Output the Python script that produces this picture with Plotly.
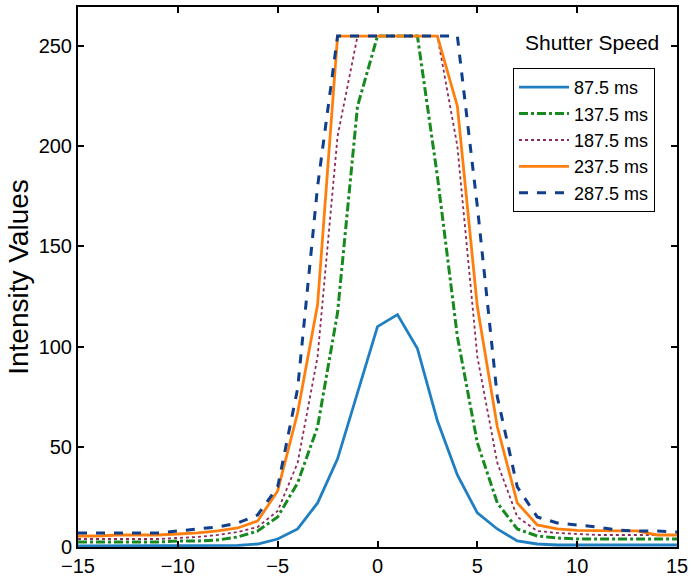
import plotly.graph_objects as go

positions = list(range(-15, 16))

speed_labels = ["87.5 ms", "137.5 ms", "187.5 ms", "237.5 ms", "287.5 ms"]

s87 = [0.5, 0.5, 0.5, 0.5, 0.5, 0.5, 0.5, 0.5, 0.8, 1.5, 4, 9, 22, 44, 77, 110,
       116, 99, 63, 36, 17, 9, 3, 1.5, 1, 1, 1, 1, 1, 1, 1]
s137 = [2.5, 2.5, 2.5, 2.5, 2.5, 3, 3, 3.5, 5, 8, 15, 32, 60, 117, 220, 255,
        255, 255, 185, 105, 52, 22, 9, 5.5, 4.5, 4, 4, 4, 4, 4, 4]
s187 = [4, 4, 4, 4, 4, 4.5, 5, 6, 7.5, 10, 18, 42, 95, 205, 255, 255,
        255, 255, 255, 200, 95, 42, 15, 8, 7, 6.5, 6, 6, 6, 6, 6]
s237 = [5.5, 5.5, 6, 6, 6, 6.5, 7, 8, 9.5, 13, 28, 67, 121, 255, 255, 255,
        255, 255, 255, 220, 120, 60, 22, 11, 9, 8.3, 8, 8, 8, 6, 6]
s287 = [7, 7, 7, 7, 7, 8, 9, 10, 12, 16, 30, 79, 180, 255, 255, 255,
        255, 255, 255, 255, 170, 75, 30, 15, 12, 11, 10, 8.5, 8, 8, 7.5]

series = [s87, s137, s187, s237, s287]
colors = ["#1f7fc2", "#168a1e", "#8c2a5a", "#ff7f0e", "#0f3f8c"]
dashes = ["solid", "dashdot", "dot", "solid", "dash"]
widths = [2.8, 3.0, 1.8, 2.8, 3.0]

fig = go.Figure()
for vals, name, c, d, w in zip(series, speed_labels, colors, dashes, widths):
    fig.add_trace(go.Scatter(x=positions, y=vals, mode="lines", name=name,
                             line=dict(color=c, dash=d, width=w)))

PLOT_L, PLOT_R, PLOT_T, PLOT_B = 78, 677, 7, 547
W, H = 691, 578


def px_to_paper(px, py):
    return (px - PLOT_L) / (PLOT_R - PLOT_L), (PLOT_B - py) / (PLOT_B - PLOT_T)


leg_x, leg_y = px_to_paper(513, 68)
ann_x, ann_y = px_to_paper(592, 43)

font_family = "Arial, Liberation Sans, sans-serif"
fig.update_layout(
    width=W, height=H,
    margin=dict(l=PLOT_L, r=W - PLOT_R, t=PLOT_T, b=H - PLOT_B, autoexpand=False),
    paper_bgcolor="white", plot_bgcolor="white",
    font=dict(family=font_family, size=20, color="black"),
    showlegend=True,
    legend=dict(x=leg_x, y=leg_y, xanchor="left", yanchor="top",
                bordercolor="black", borderwidth=1, bgcolor="white",
                font=dict(size=18), tracegroupgap=0, itemwidth=50),
    annotations=[dict(text="Shutter Speed", x=ann_x, y=ann_y, xref="paper", yref="paper",
                      xanchor="center", yanchor="middle",
                      showarrow=False, font=dict(size=21))],
)
fig.update_xaxes(range=[-15, 15], tickvals=[-15, -10, -5, 0, 5, 10, 15],
                 ticks="inside", ticklen=6, tickwidth=2, tickcolor="black",
                 showline=True, linecolor="black", linewidth=2, mirror="allticks",
                 showgrid=False, zeroline=False, tickfont=dict(size=20),
                 automargin=False)
fig.update_yaxes(range=[0, 269.5], tickvals=[0, 50, 100, 150, 200, 250],
                 ticks="inside", ticklen=6, tickwidth=2, tickcolor="black",
                 showline=True, linecolor="black", linewidth=2, mirror="allticks",
                 showgrid=False, zeroline=False, tickfont=dict(size=20),
                 automargin=False,
                 title=dict(text="Intensity Values", font=dict(size=28), standoff=2))

# remove the browser's default 8px page margin so the figure fills the window
fig.write_html("out.html", config={"displayModeBar": False},
               post_script="document.body.style.margin='0';")
